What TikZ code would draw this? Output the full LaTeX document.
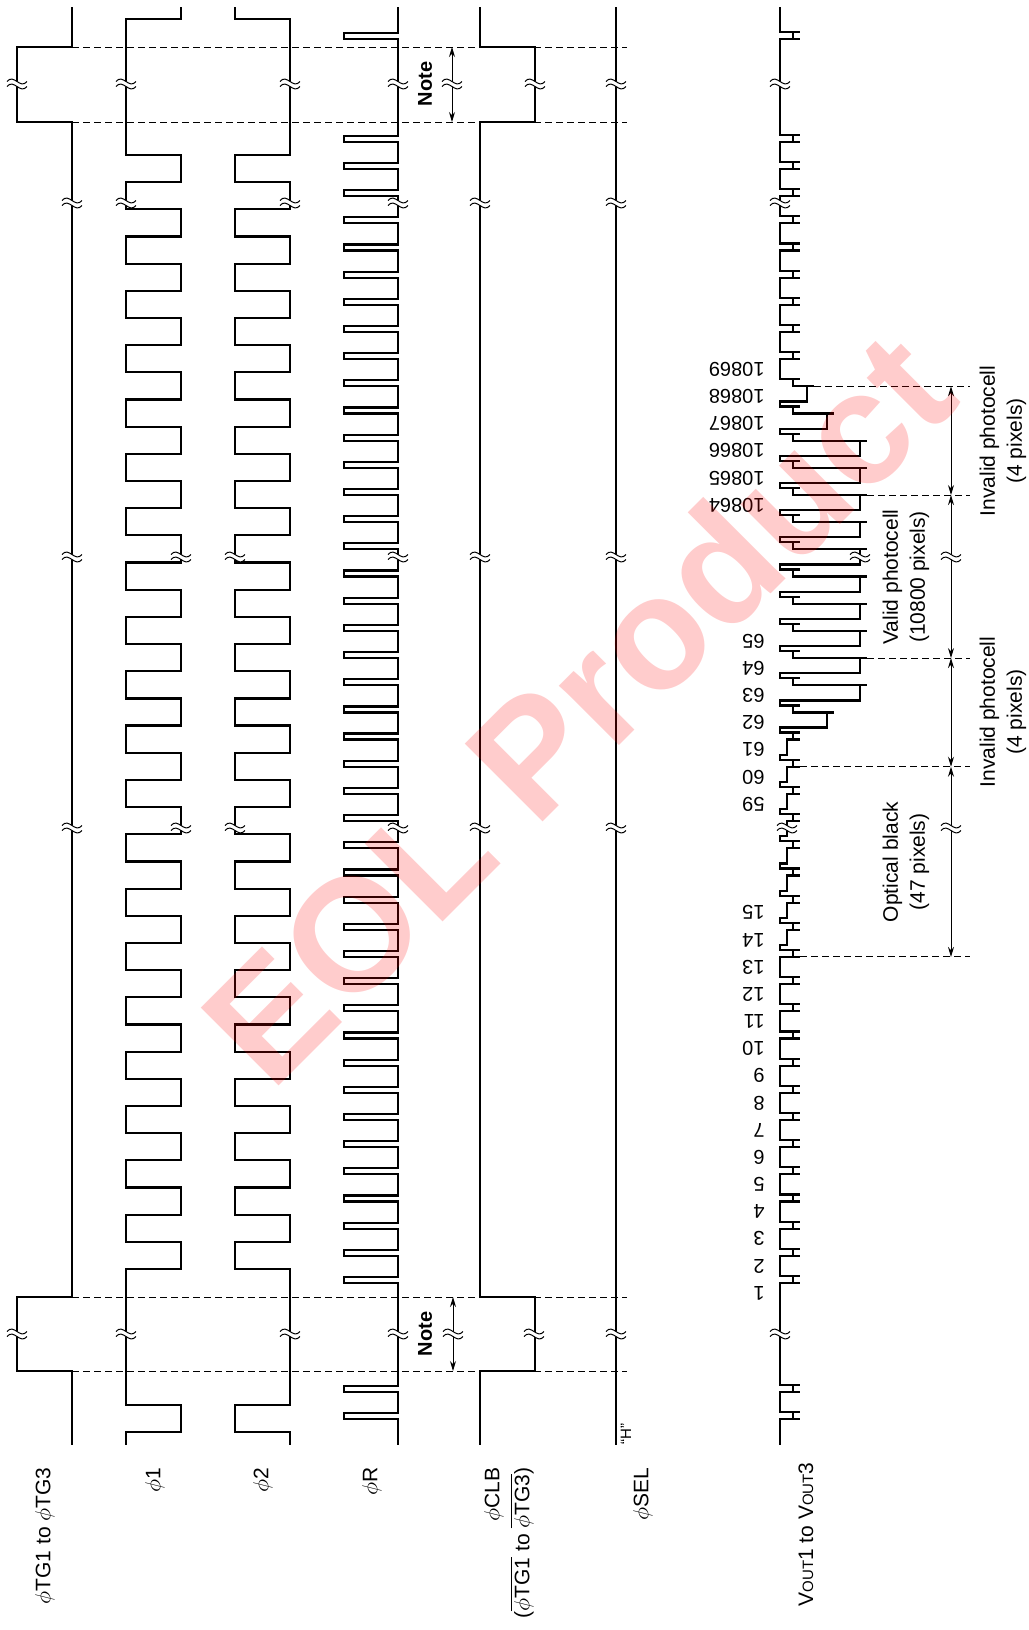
\documentclass[tikz,border=0pt]{standalone}
\usepackage{fontspec}
\setmainfont{Liberation Sans}
\usetikzlibrary{arrows.meta}

\pgfmathdeclarefunction{vlev}{1}{%
  \pgfmathparse{(#1==9)?807:(((#1==10)||(#1==21))?827:(((#1>=11)&&(#1<=20))?860:(((#1>=22)&&(#1<=29))?787:780)))}%
}
\pgfmathdeclarefunction{rst}{1}{%
  \pgfmathparse{(((#1>=-4)&&(#1<=-2))||((#1>=42)&&(#1<=44)))?0:1}%
}
\pgfmathdeclarefunction{tk}{1}{%
  \pgfmathparse{155+27.17*#1+6*(#1==-5)}%
}

\newcommand{\wavebreak}[2]{%
  \fill[white] (#1-10,#2-2.5) .. controls (#1-3,#2-11) and (#1+3,#2+6) .. (#1+10,#2-2.5)
    -- (#1+10,#2+2.5) .. controls (#1+3,#2+11) and (#1-3,#2-6) .. (#1-10,#2+2.5) -- cycle;
  \draw[line width=0.5pt] (#1-10,#2-2.5) .. controls (#1-3,#2-11) and (#1+3,#2+6) .. (#1+10,#2-2.5);
  \draw[line width=0.5pt] (#1-10,#2+2.5) .. controls (#1-3,#2-6) and (#1+3,#2+11) .. (#1+10,#2+2.5);
}

\tikzset{
  wave/.style={line width=1.1pt},
  guide/.style={line width=0.5pt, dash pattern=on 3.5pt off 2pt},
  dim/.style={line width=0.5pt, {Stealth[length=5pt,width=3pt]}-{Stealth[length=5pt,width=3pt]}},
  siglabel/.style={rotate=90, anchor=east, inner sep=0pt, align=right,
    font=\fontsize{10.5}{15}\selectfont},
  pixlabel/.style={rotate=180, anchor=west, inner sep=0pt, font=\fontsize{10}{12}\selectfont},
  dimlabel/.style={rotate=90, inner sep=0pt, align=center, font=\fontsize{10.5}{13.5}\selectfont},
}

\begin{document}
\begin{tikzpicture}[x=0.5pt,y=-0.5pt]
\useasboundingbox (0,0) rectangle (1029,1630);

\draw[wave] (72,7) -- (72,47) -- (17,47) -- (17,122) -- (72,122) -- (72,1297)
  -- (17,1297) -- (17,1371) -- (72,1371) -- (72,1445);
\draw[wave] (181,7) -- (181,19.15) -- (126,19.15)
  foreach \pk [evaluate=\pk as \ya using {155+27.17*\pk},
               evaluate=\pk as \xa using {mod(\pk,2)==0 ? 126 : 181},
               evaluate=\pk as \xb using {mod(\pk,2)==0 ? 181 : 126}] in {0,...,41}
  { -- (\xa,\ya) -- (\xb,\ya) }
  -- (126,1404.82) -- (181,1404.82) -- (181,1431.99) -- (126,1431.99) -- (126,1445);
\draw[wave] (235,7) -- (235,19.15) -- (290,19.15)
  foreach \pk [evaluate=\pk as \ya using {155+27.17*\pk},
               evaluate=\pk as \xa using {mod(\pk,2)==0 ? 290 : 235},
               evaluate=\pk as \xb using {mod(\pk,2)==0 ? 235 : 290}] in {0,...,41}
  { -- (\xa,\ya) -- (\xb,\ya) }
  -- (290,1404.82) -- (235,1404.82) -- (235,1431.99) -- (290,1431.99) -- (290,1445);
\draw[wave] (398,7)
  foreach \pk [evaluate=\pk as \ya using {tk(\pk)+8},
               evaluate=\pk as \yb using {tk(\pk)+14},
               evaluate=\pk as \xp using {398-54*rst(\pk)}] in {-5,...,46}
  { -- (398,\ya) -- (\xp,\ya) -- (\xp,\yb) -- (398,\yb) }
  -- (398,1445);
\draw[wave] (480,7) -- (480,47) -- (535,47) -- (535,122) -- (480,122) -- (480,1297)
  -- (535,1297) -- (535,1371) -- (480,1371) -- (480,1445);
\draw[wave] (616,7) -- (616,1445);
\draw[wave] (780,7)
  foreach \pk [evaluate=\pk as \ya using {tk(\pk)+2},
               evaluate=\pk as \yb using {tk(\pk)+7},
               evaluate=\pk as \yc using {tk(\pk)+14},
               evaluate=\pk as \fl using {780+13*rst(\pk)},
               evaluate=\pk as \sa using {vlev(\pk)},
               evaluate=\pk as \sn using {vlev(\pk+1)}] in {-5,...,46}
  { -- (\sa,\ya) -- (780,\ya) -- (780,\yb) -- (\fl,\yb) -- (\fl,\yc) -- (\sn,\yc) }
  -- (780,1445);
\foreach \pk in {-5,...,46} {
  \pgfmathtruncatemacro\rs{rst(\pk)}
  \ifnum\rs=1
    \pgfmathsetmacro\ya{tk(\pk)}
    \pgfmathsetmacro\lv{max(vlev(\pk+1),793)}
    \draw[wave] (793,\ya+7) -- (800,\ya+7) (\lv,\ya+14) -- (\lv+7,\ya+14);
  \fi
}

\foreach \yy in {47,122,1297,1371} {
  \draw[guide] (72,\yy) -- (627,\yy);
}
\draw[guide] (814,386.36) -- (970,386.36);
\draw[guide] (867,495.04) -- (970,495.04);
\draw[guide] (867,658.06) -- (970,658.06);
\draw[guide] (800,766.74) -- (970,766.74);
\draw[guide] (800,956.93) -- (970,956.93);

\coordinate (n1a) at (452,47);
\coordinate (n1b) at (452,122);
\coordinate (n2a) at (453,1297);
\coordinate (n2b) at (453,1371);
\draw[dim] (n1a) -- (n1b);
\draw[dim] (n2a) -- (n2b);
\coordinate (d1) at (951,386.36);
\coordinate (d2) at (951,495.04);
\coordinate (d3) at (951,658.06);
\coordinate (d4) at (951,766.74);
\coordinate (d5) at (951,956.93);
\draw[dim] (d1) -- (d2);
\draw[dim] (d2) -- (d3);
\draw[dim] (d3) -- (d4);
\draw[dim] (d4) -- (d5);

\foreach \xx in {17,126,290,398,452,535,616,780} {\wavebreak{\xx}{84}}
\foreach \xx in {72,126,290,398,480,616,780} {\wavebreak{\xx}{203}}
\foreach \xx in {72,181,235,398,480,616,860,951} {\wavebreak{\xx}{557}}
\foreach \xx in {72,181,235,398,480,616,787,951} {\wavebreak{\xx}{828}}
\foreach \xx in {17,126,290,398,453,534,616,780} {\wavebreak{\xx}{1334}}

\node[rotate=90, inner sep=0pt, font=\fontsize{10}{12}\selectfont\bfseries] (note1) at (425,84) {Note};
\node[rotate=90, inner sep=0pt, font=\fontsize{10}{12}\selectfont\bfseries] (note2) at (425,1334) {Note};
\node[rotate=90, inner sep=0pt, font=\fontsize{7.5}{9}\selectfont] (hlev) at (626,1434) {“H”};

\node[siglabel] (lTG) at (45,1467) {$\phi$TG1 to $\phi$TG3};
\node[siglabel] (lP1) at (155,1467) {$\phi$1};
\node[siglabel] (lP2) at (263,1467) {$\phi$2};
\node[siglabel] (lR) at (372,1467) {$\phi$R};
\node[siglabel] (lCLB) at (509,1467) {$\phi$CLB\\($\overline{\phi\mbox{TG1}}$ to $\overline{\phi\mbox{TG3}}$)};
\node[siglabel] (lSEL) at (643,1467) {$\phi$SEL};
\node[siglabel] (lV) at (806,1462) {V{\fontsize{7.5}{9}\selectfont OUT}1 to V{\fontsize{7.5}{9}\selectfont OUT}3};

\foreach \lab/\pk in {10869/8,10868/9,10867/10,10866/11,10865/12,10864/13,
  65/18,64/19,63/20,62/21,61/22,60/23,59/24,15/28,14/29,13/30,12/31,11/32,10/33,
  9/34,8/35,7/36,6/37,5/38,4/39,3/40,2/41,1/42} {
  \node[pixlabel] (p\lab) at (765,{152+27.17*\pk}) {\lab};
}

\node[dimlabel] (inv1) at (1003,441) {Invalid photocell\\(4 pixels)};
\node[dimlabel] (valid) at (906,577) {Valid photocell\\(10800 pixels)};
\node[dimlabel] (inv2) at (1003,712) {Invalid photocell\\(4 pixels)};
\node[dimlabel] (ob) at (906,862) {Optical black\\(47 pixels)};

\node[rotate=45, text=red, opacity=0.2, inner sep=0pt,
  font=\fontsize{80}{82}\selectfont\bfseries] (eol) at (577,707) {EOL Product};
\end{tikzpicture}
\end{document}
